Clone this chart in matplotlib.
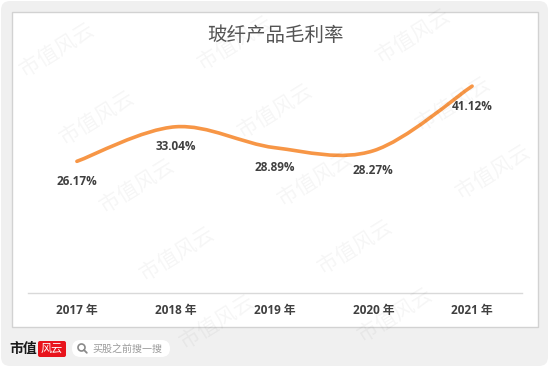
import matplotlib
matplotlib.use('Agg')
import matplotlib.pyplot as plt
from matplotlib.patches import FancyBboxPatch, Rectangle, Circle, PathPatch
from matplotlib.path import Path
import numpy as np

years = ['2017', '2018', '2019', '2020', '2021']
margins = [26.17, 33.04, 28.89, 28.27, 41.12]
tick_labels = [f'{y} 年' for y in years]
value_labels = [f'{v:.2f}%' for v in margins]
title = '玻纤产品毛利率'
watermark = '市值风云'

CJK = ['Noto Sans CJK SC', 'DejaVu Sans']
W, H = 550, 367
fig = plt.figure(figsize=(5.5, 3.67), dpi=100)
fig.patch.set_facecolor('white')

# background decorations (pixel coordinates)
bg = fig.add_axes([0, 0, 1, 1], zorder=0)
bg.set_xlim(0, W); bg.set_ylim(H, 0); bg.axis('off')
bg.add_patch(FancyBboxPatch((1, 1), 547, 365, boxstyle='round,pad=0,rounding_size=9',
                            fc='#f0f0f0', ec='none'))
bg.add_patch(Rectangle((12, 12), 526, 315, fc='white', ec='#d2d2d2', lw=1))

bg.text(275, 35, title, fontsize=14, color='#555555', ha='center', va='center', family=CJK)

# bottom logo
bg.text(23, 349, '市值', fontsize=10, weight='bold', color='#1a1a1a', ha='center', va='center', family=CJK)
bg.add_patch(FancyBboxPatch((38, 341), 28, 16, boxstyle='round,pad=0,rounding_size=2',
                            fc='#e8141c', ec='none'))
bg.text(52, 349, '风云', fontsize=8, color='white', style='italic', ha='center', va='center', family=CJK)
bg.add_patch(FancyBboxPatch((72, 340), 98, 17, boxstyle='round,pad=0,rounding_size=8.5',
                            fc='white', ec='none'))
bg.add_patch(Circle((81.5, 347.5), 3.5, fill=False, ec='#8a8a8a', lw=1.2))
bg.plot([84, 86.8], [350, 352.8], color='#8a8a8a', lw=1.3, solid_capstyle='round')
bg.text(92, 349, '买股之前搜一搜', fontsize=7.2, color='#9a9a9a', ha='left', va='center', family=CJK)

# data axes
ax = fig.add_axes([27.5 / W, (H - 293) / H, 494 / W, (293 - 66.6) / H], zorder=1)
ax.patch.set_alpha(0)
ax.set_xlim(-0.5, 4.5)
ax.set_ylim(0, 45)
for s in ['top', 'right', 'left']:
    ax.spines[s].set_visible(False)
ax.spines['bottom'].set_color('#d9d9d9')
ax.spines['bottom'].set_linewidth(1)
ax.set_yticks([])
ax.set_xticks(range(len(years)))
ax.set_xticklabels(tick_labels, fontsize=8.5, weight='bold', color='#404040',
                   family=['Open Sans', 'Noto Sans CJK SC'])
ax.tick_params(axis='x', length=0, pad=8)

# smoothed line (Excel-style Bezier)
pts = np.column_stack([np.arange(len(margins)), margins]).astype(float)
n = len(pts)
verts = [tuple(pts[0])]
codes = [Path.MOVETO]
for i in range(n - 1):
    p0 = pts[max(i - 1, 0)]; p1 = pts[i]; p2 = pts[i + 1]; p3 = pts[min(i + 2, n - 1)]
    c1 = p1 + (p2 - p0) / 6.0
    c2 = p2 - (p3 - p1) / 6.0
    verts += [tuple(c1), tuple(c2), tuple(p2)]
    codes += [Path.CURVE4] * 3
ax.add_patch(PathPatch(Path(verts, codes), fill=False, ec='#f79646', lw=2.6,
                       capstyle='round', joinstyle='round'))

for i, (v, lbl) in enumerate(zip(margins, value_labels)):
    ax.annotate(lbl, (i, v), xytext=(0, -14.4), textcoords='offset points',
                ha='center', va='center', fontsize=8.5, weight='bold', color='#404040',
                family='Open Sans')

# watermark overlay
ov = fig.add_axes([0, 0, 1, 1], zorder=10)
ov.set_xlim(0, W); ov.set_ylim(H, 0); ov.axis('off'); ov.patch.set_alpha(0)
for i in range(-3, 6):
    for j in range(-3, 8):
        cx = 57 + 178 * i + 40 * j
        cy = 50 - 7 * i + 68 * j
        if 48 < cx < W - 48 and 32 < cy < H - 32:
            ov.text(cx, cy, watermark, fontsize=15, rotation=32, rotation_mode='anchor',
                    ha='center', va='center', color='black', alpha=0.04, family=CJK)

fig.savefig('out.png', dpi=100)
